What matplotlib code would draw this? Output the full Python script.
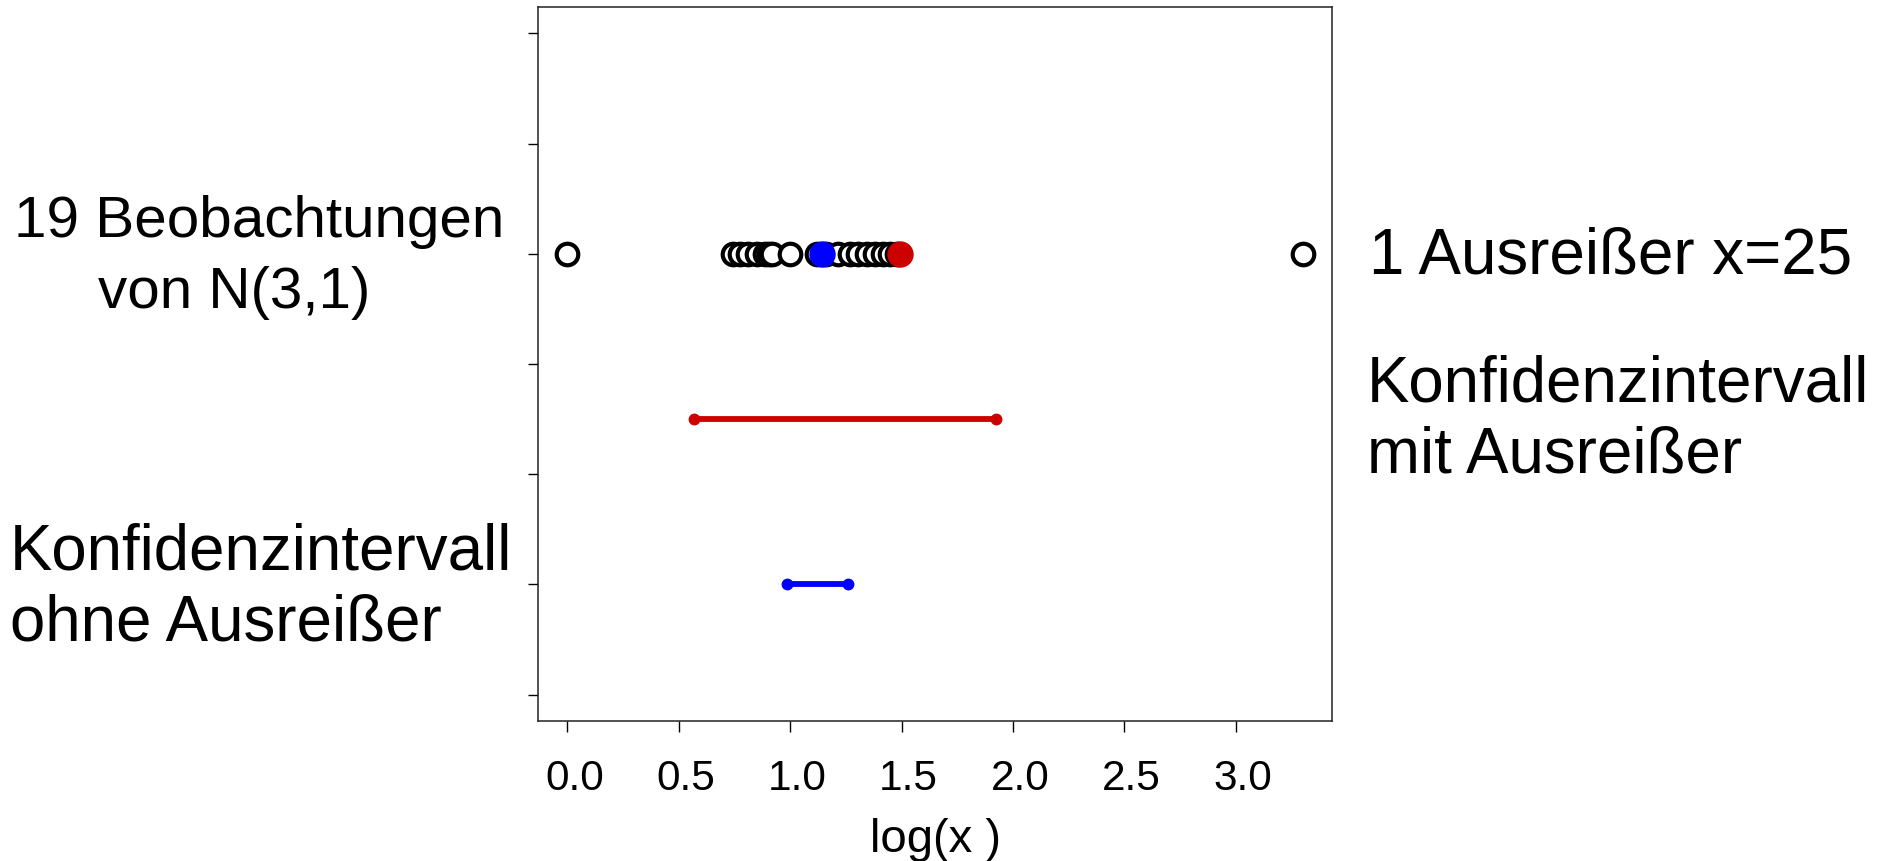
import matplotlib
matplotlib.use("Agg")
import matplotlib.pyplot as plt
import matplotlib.transforms as mtransforms

plt.rcParams["font.family"] = ["Liberation Sans", "DejaVu Sans"]

# Werte (log-Skala)
beobachtungen = [0.0, 0.745, 0.776, 0.812, 0.853, 0.889, 0.905, 0.92, 1.001,
                 1.122, 1.16, 1.216, 1.27, 1.306, 1.346, 1.382, 1.418, 1.45, 1.48]
ausreisser = [3.3]
mittel_ohne = 1.145
mittel_mit = 1.495
ki_mit = [0.566, 1.924]
ki_ohne = [0.987, 1.258]

y_punkte = 4
y_ki_mit = 2.5
y_ki_ohne = 1

rot = "#CD0000"
blau = "#0000FF"

fig = plt.figure(figsize=(18.78, 8.62), dpi=100)
ax = fig.add_axes([538 / 1878, 1 - 722 / 862, (1332 - 538) / 1878, (722 - 8) / 862])

alle = beobachtungen + ausreisser
ax.plot(alle, [y_punkte] * len(alle), "o", ms=15.5, mfc="white", mec="black", mew=3, ls="none")
ax.plot([mittel_ohne], [y_punkte], "o", ms=18, color=blau)
ax.plot([mittel_mit], [y_punkte], "o", ms=18, color=rot)

ax.plot(ki_mit, [y_ki_mit] * 2, "-o", color=rot, lw=4.2, ms=7.5)
ax.plot(ki_ohne, [y_ki_ohne] * 2, "-o", color=blau, lw=4.2, ms=7.5)

ax.set_xlim(-0.132, 3.432)
ax.set_ylim(-0.24, 6.24)
ax.set_xticks([0.0, 0.5, 1.0, 1.5, 2.0, 2.5, 3.0])
ax.set_xticklabels(["0.0", "0.5", "1.0", "1.5", "2.0", "2.5", "3.0"])
ax.set_yticks(range(7))
ax.set_yticklabels([])
ax.tick_params(axis="x", length=8, width=1, labelsize=30.5, pad=19)
ax.tick_params(axis="y", length=7, width=1)
for s in ax.spines.values():
    s.set_linewidth(1.1)
    s.set_color("#222222")

offset = mtransforms.ScaledTranslation(7 / 100, 0, fig.dpi_scale_trans)
for lab in ax.get_xticklabels():
    lab.set_transform(lab.get_transform() + offset)

ax.set_xlabel("log(x )", fontsize=34, labelpad=13)

# Beschriftungen
def txt(x, y, s, size=45.8):
    fig.text(x / 1878, 1 - y / 862, s, fontsize=size, va="baseline", ha="left")

txt(14, 237, "19 Beobachtungen", 42)
txt(98, 308, "von N(3,1)", 42)
txt(10, 569, "Konfidenzintervall")
txt(10, 641, "ohne Ausreißer")
txt(1369, 274, "1 Ausreißer x=25")
txt(1367, 402, "Konfidenzintervall")
txt(1367, 473, "mit Ausreißer")

fig.savefig("out.png", dpi=100)
